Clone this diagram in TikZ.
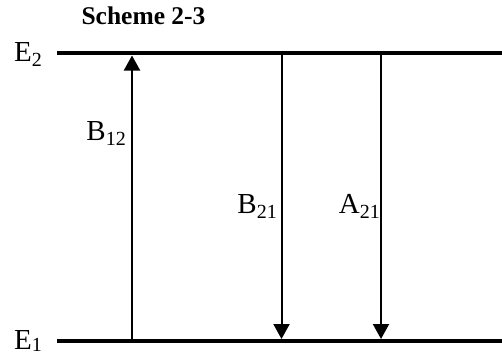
\documentclass[tikz,border=0pt]{standalone}
\usepackage{fontspec}
\setmainfont{Liberation Serif}
\usetikzlibrary{arrows.meta}
\newcommand{\lvlsub}[3][5pt]{#2\raisebox{-#1}{\fontsize{20}{20}\selectfont #3}}
\begin{document}
\begin{tikzpicture}[x=1pt,y=-1pt,
  level/.style={line width=4.5pt},
  trans/.style={line width=2pt,-{Triangle[width=16pt,length=15pt]}},
  lab/.style={inner sep=0pt,font=\fontsize{29}{29}\selectfont},
  ttl/.style={inner sep=0pt,font=\fontsize{25.5}{25.5}\selectfont\bfseries}]
\useasboundingbox (0,0) rectangle (502,354);
% levels
\coordinate (E2l) at (57,53);
\coordinate (E2r) at (502,53);
\coordinate (E1l) at (57,341);
\coordinate (E1r) at (502,341);
\draw[level] (E2l) -- (E2r);
\draw[level] (E1l) -- (E1r);
% level labels
\node[lab,anchor=base west] (E2) at (14,61) {\lvlsub{E}{2}};
\node[lab,anchor=base west] (E1) at (14,349) {\lvlsub[2pt]{E}{1}};
\node[ttl,anchor=base] (title) at (143.5,24) {Scheme 2-3};
% transitions
\coordinate (u1) at (132,341);
\coordinate (u2) at (132,55.5);
\coordinate (d1a) at (281.5,53);
\coordinate (d1b) at (281.5,339);
\coordinate (d2a) at (381,53);
\coordinate (d2b) at (381,339);
\draw[trans] (u1) -- (u2);
\draw[trans] (d1a) -- (d1b);
\draw[trans] (d2a) -- (d2b);
% transition labels
\node[lab,anchor=base east] (B12) at (126,140) {\lvlsub{B}{12}};
\node[lab,anchor=base east] (B21) at (277,213) {\lvlsub{B}{21}};
\node[lab,anchor=base east] (A21) at (380,213) {\lvlsub{A}{21}};
\end{tikzpicture}
\end{document}
